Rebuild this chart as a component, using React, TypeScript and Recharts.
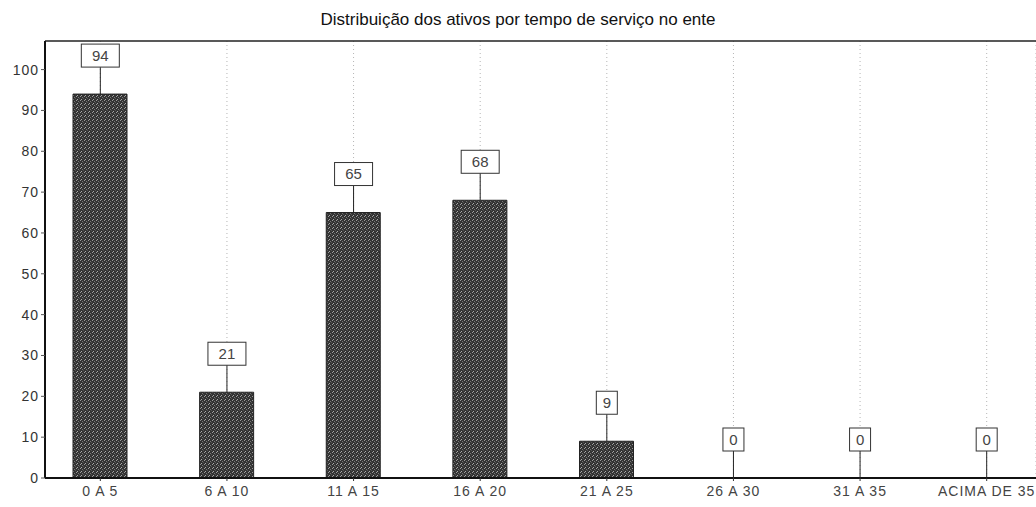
import React from 'react';
import {
  ComposedChart,
  Bar,
  Line,
  XAxis,
  YAxis,
  CartesianGrid,
  ReferenceLine,
  LabelList,
} from 'recharts';

const categories = ['0 A 5', '6 A 10', '11 A 15', '16 A 20', '21 A 25', '26 A 30', '31 A 35', 'ACIMA DE 35'];
const ativos = [94, 21, 65, 68, 9, 0, 0, 0];
const yTicks = [0, 10, 20, 30, 40, 50, 60, 70, 80, 90, 100];

const data = categories.map((faixa, i) => ({ faixa, ativos: ativos[i] }));

const font = '"Liberation Sans", Arial, sans-serif';

// caixinha com o valor + linha ate o topo da barra
const BoxLabel = (props: any) => {
  const { x, y, value } = props;
  const cx = x;
  const txt = String(value);
  const w = 4 + 17 * txt.length;
  const h = 23;
  const top = y - 50;
  return (
    <g>
      <line x1={cx} y1={top + h} x2={cx} y2={y} stroke="#222" strokeWidth={1} />
      <rect x={cx - w / 2} y={top} width={w} height={h} fill="#fff" stroke="#333" strokeWidth={1} />
      <text x={cx} y={top + h / 2 + 5} textAnchor="middle" fontSize={15} fill="#444" fontFamily={font}>
        {txt}
      </text>
    </g>
  );
};

const App = () => (
  <div style={{ position: 'absolute', left: 0, top: 0, width: 1036, height: 507, overflow: 'hidden', background: '#fff' }}>
    <div
      style={{
        position: 'absolute', left: 0, top: 10, width: 1036, textAlign: 'center',
        fontFamily: font, fontSize: 17, color: '#111',
      }}
    >
      Distribuição dos ativos por tempo de serviço no ente
    </div>
    <ComposedChart
      width={1036}
      height={507}
      data={data}
      margin={{ top: 41, right: 0, left: 0, bottom: 0 }}
    >
      <defs>
        <pattern id="ruido" width="4" height="4" patternUnits="userSpaceOnUse">
          <rect width="4" height="4" fill="#333" />
          <rect x="0" y="0" width="1" height="1" fill="#9a9a9a" />
          <rect x="2" y="1" width="1" height="1" fill="#777" />
          <rect x="1" y="3" width="1" height="1" fill="#aaa" />
          <rect x="3" y="2" width="1" height="1" fill="#555" />
        </pattern>
      </defs>
      <CartesianGrid horizontal={false} stroke="#b5b5b5" strokeDasharray="1 3" />
      <ReferenceLine y={107} stroke="#222" strokeWidth={1.5} />
      <XAxis
        dataKey="faixa"
        height={29}
        padding={{ left: -8, right: -14 }}
        interval={0}
        axisLine={{ stroke: '#111', strokeWidth: 2 }}
        tickLine={{ stroke: '#333' }}
        tickSize={3}
        tick={{ fontSize: 14, fill: '#444', fontFamily: font, letterSpacing: 1, dy: 3 }}
      />
      <YAxis
        width={45}
        domain={[0, 107]}
        ticks={yTicks}
        allowDataOverflow
        axisLine={{ stroke: '#111', strokeWidth: 2 }}
        tickLine={{ stroke: '#555' }}
        tickSize={4}
        tick={{ fontSize: 14, fill: '#333', fontFamily: font, letterSpacing: 1 }}
      />
      <Bar dataKey="ativos" fill="url(#ruido)" stroke="#222" strokeWidth={1} barSize={54} isAnimationActive={false} />
      <Line dataKey="ativos" stroke="none" dot={false} activeDot={false} isAnimationActive={false}>
        <LabelList dataKey="ativos" content={BoxLabel} />
      </Line>
    </ComposedChart>
  </div>
);

export default App;
